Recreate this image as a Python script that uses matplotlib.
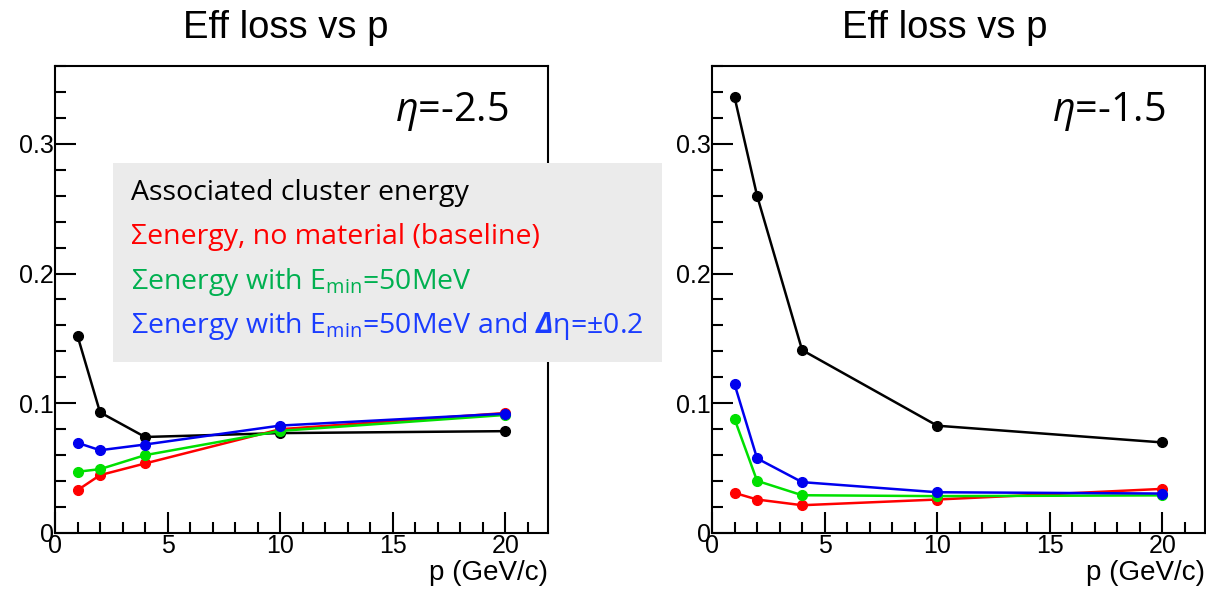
import numpy as np
import matplotlib
matplotlib.use('Agg')
import matplotlib.pyplot as plt
from matplotlib.patches import Rectangle
from matplotlib.ticker import MultipleLocator

plt.rcParams['font.family'] = ['Liberation Sans', 'DejaVu Sans']
plt.rcParams['mathtext.fontset'] = 'custom'
plt.rcParams['mathtext.rm'] = 'Open Sans'
plt.rcParams['mathtext.it'] = 'Open Sans:italic'
plt.rcParams['mathtext.bfit'] = 'Open Sans:bold:italic'

# data
p = [1, 2, 4, 10, 20]

# eta = -2.5
assoc_25 = [0.152, 0.093, 0.074, 0.077, 0.0785]
nomat_25 = [0.033, 0.0446, 0.0536, 0.080, 0.0925]
emin_25 = [0.0472, 0.0492, 0.060, 0.0787, 0.091]
emin_deta_25 = [0.0695, 0.0638, 0.0682, 0.0828, 0.092]

# eta = -1.5
assoc_15 = [0.336, 0.260, 0.141, 0.0827, 0.0698]
nomat_15 = [0.0309, 0.0258, 0.0214, 0.0258, 0.034]
emin_15 = [0.0879, 0.0402, 0.0291, 0.0284, 0.029]
emin_deta_15 = [0.1147, 0.0575, 0.0392, 0.0314, 0.0304]

panels = [('$\\mathit{η}$=-2.5', [assoc_25, nomat_25, emin_25, emin_deta_25]),
          ('$\\mathit{η}$=-1.5', [assoc_15, nomat_15, emin_15, emin_deta_15])]

lineColors = ['black', '#ff0000', '#00e000', '#0000ee']
textColors = ['black', '#ff0000', '#00b050', '#1a3cff']
legendText = ['Associated cluster energy',
              'Σenergy, no material (baseline)',
              'Σenergy with E$_{\\mathrm{min}}$=50MeV',
              'Σenergy with E$_{\\mathrm{min}}$=50MeV and $\\mathbfit{Δ}$η=±0.2']

fig = plt.figure(figsize=(12.06, 6.0), dpi=100)
axLeft = [0.0456, 0.5904]
for k in range(2):
    ax = fig.add_axes([axLeft[k], 0.1117, 0.409, 0.7783])
    lbl, series = panels[k]
    for j in range(4):
        ax.plot(p, series[j], '-o', color=lineColors[j], lw=1.8, markersize=7)
    ax.set_xlim(0, 21.9)
    ax.set_ylim(0, 0.36)
    ax.xaxis.set_major_locator(MultipleLocator(5))
    ax.xaxis.set_minor_locator(MultipleLocator(1))
    ax.yaxis.set_major_locator(MultipleLocator(0.1))
    ax.yaxis.set_minor_locator(MultipleLocator(0.02))
    ax.xaxis.set_major_formatter(plt.FuncFormatter(lambda v, pos: '%g' % v))
    ax.yaxis.set_major_formatter(plt.FuncFormatter(lambda v, pos: '%g' % round(v, 2)))
    ax.tick_params(which='both', direction='in', width=1.5, labelsize=18, pad=1)
    ax.tick_params(which='major', length=15)
    ax.tick_params(which='minor', length=8)
    for s in ax.spines.values():
        s.set_linewidth(1.5)
    ax.set_xlabel('p (GeV/c)', fontsize=20, loc='right', labelpad=1)
    ax.text(0.92, 0.9015, lbl, transform=ax.transAxes, fontsize=28.5,
            ha='right', va='center', family='Open Sans')

fig.text(0.237, 0.953, 'Eff loss vs p', fontsize=27.5, ha='center', va='center')
fig.text(0.783, 0.953, 'Eff loss vs p', fontsize=27.5, ha='center', va='center')

# legend box as on the slide
box = Rectangle((113 / 1206, 1 - 362 / 600), 549 / 1206, 199 / 600,
                transform=fig.transFigure, facecolor='#ebebeb', edgecolor='none', zorder=5)
fig.patches.append(box)
rowY = [193, 237, 282, 326]
for j in range(4):
    fig.text(131 / 1206, 1 - rowY[j] / 600, legendText[j], color=textColors[j],
             fontsize=20.5, family='Open Sans', ha='left', va='center', zorder=6)

plt.savefig('out.png', dpi=100)
